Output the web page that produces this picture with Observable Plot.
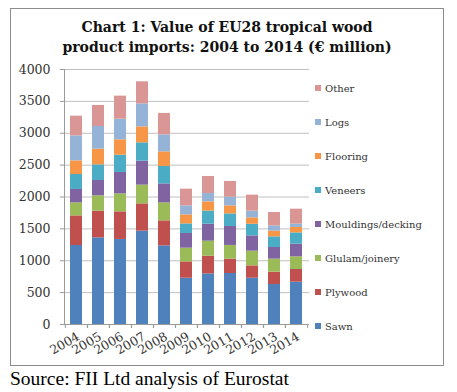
<!DOCTYPE html>
<html><head><meta charset="utf-8">
<script src="https://cdn.jsdelivr.net/npm/d3@7"></script>
<script src="https://cdn.jsdelivr.net/npm/@observablehq/plot@0.6"></script>
<style>
html,body{margin:0;padding:0;background:#fff;}
body{width:457px;height:392px;position:relative;overflow:hidden;font-family:"DejaVu Serif",serif;}
#frame{position:absolute;left:10px;top:8px;width:432px;height:356px;border:1px solid #8c8c8c;box-sizing:content-box;}
#title{position:absolute;left:10px;top:17px;width:434px;text-align:center;font-weight:bold;font-size:14px;line-height:20px;color:#111;}
#chart{position:absolute;left:0;top:60px;}
#legend{position:absolute;left:315px;top:71px;}
.li{height:34px;display:flex;align-items:center;font-size:10px;color:#333;white-space:nowrap;}
.sw{width:6px;height:6px;margin-right:4px;display:inline-block;}
#source{position:absolute;left:10px;top:368px;font-family:"Liberation Serif",serif;font-size:19.5px;color:#000;white-space:nowrap;}
</style></head>
<body>
<div id="frame"></div>
<div id="title">Chart 1: Value of EU28 tropical wood<br>product imports: 2004 to 2014 (€ million)</div>
<div id="chart"></div>
<div id="legend"></div>
<div id="source">Source: FII Ltd analysis of Eurostat</div>
<script>
const years = ["2004","2005","2006","2007","2008","2009","2010","2011","2012","2013","2014"];
const seriesNames = ["Sawn","Plywood","Glulam/joinery","Mouldings/decking","Veneers","Flooring","Logs","Other"];
const colors = ["#4F81BD","#C0504D","#9BBB59","#8064A2","#4BACC6","#F79646","#95B3D7","#D99694"];
const sawn      = [1239,1359,1334,1464,1233,726,794,800,726,627,664];
const plywood   = [465,419,433,428,393,256,278,225,194,194,199];
const glulam    = [204,240,282,294,282,215,235,215,230,204,198];
const mouldings = [210,241,336,376,298,231,267,298,240,183,199];
const veneers   = [235,245,271,287,273,150,204,197,182,167,177];
const flooring  = [214,246,241,251,229,142,146,126,101,89,85];
const logs      = [392,356,324,361,267,141,131,136,105,83,52];
const other     = [309,330,361,346,336,262,267,247,251,210,235];
const yTicks = [0,500,1000,1500,2000,2500,3000,3500,4000];

const seriesValues = [sawn,plywood,glulam,mouldings,veneers,flooring,logs,other];
const data = [];
years.forEach((yr,i)=>{
  seriesNames.forEach((s,j)=>data.push({year:yr, series:s, value:seriesValues[j][i]}));
});

const W = 320, ML = 64, MR = 11;
const step = (W - ML - MR) / years.length;

const chart = Plot.plot({
  width:W, height:300,
  marginLeft:ML, marginRight:MR, marginTop:9, marginBottom:36,
  style:{fontFamily:"DejaVu Serif, serif", fontSize:"12.5px", color:"#333", background:"transparent"},
  x:{domain:years, paddingInner:0.44, paddingOuter:0.22, label:null},
  y:{domain:[0,4000], label:null},
  color:{domain:seriesNames, range:colors},
  marks:[
    Plot.gridY(yTicks,{stroke:"#c0c0c0", strokeOpacity:1}),
    Plot.barY(data,{x:"year", y:"value", fill:"series"}),
    Plot.ruleY([0],{stroke:"#9a9a9a"}),
    Plot.axisY(yTicks,{tickSize:4, tickPadding:10, stroke:"#9a9a9a", fill:"#333", tickFormat:d3.format("d"), label:null}),
    Plot.axisX({tickSize:4, dx:-step/2, stroke:"#9a9a9a", tickFormat:()=>"", label:null}),
    Plot.axisX({tickSize:4, dx:step/2, stroke:"#9a9a9a", tickFormat:()=>"", label:null}),
    Plot.axisX({tickSize:0, tickPadding:11, dx:2, tickRotate:-30, fill:"#333", label:null}),
    Plot.frame({anchor:"left", stroke:"#9a9a9a"})
  ]
});
document.getElementById("chart").appendChild(chart);

const lg = document.getElementById("legend");
seriesNames.slice().reverse().forEach(s=>{
  const c = colors[seriesNames.indexOf(s)];
  const d = document.createElement("div"); d.className="li";
  d.innerHTML = `<span class="sw" style="background:${c}"></span>${s}`;
  lg.appendChild(d);
});
</script>
</body></html>
